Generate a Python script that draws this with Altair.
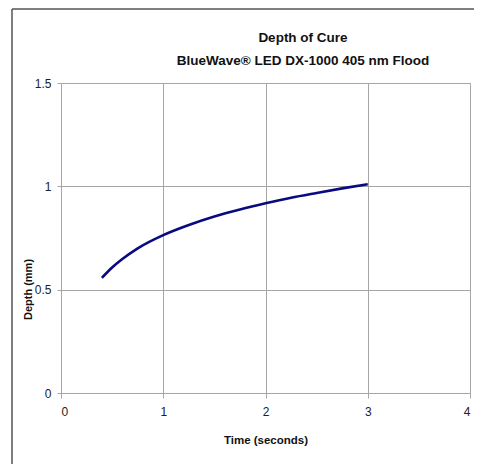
import altair as alt
import pandas as pd

# values
time_s = [0.4, 0.5, 0.6, 0.75, 1.0, 1.25, 1.5, 1.75, 2.0, 2.25, 2.5, 2.75, 3.0]
depth_mm = [0.557, 0.607, 0.648, 0.700, 0.764, 0.813, 0.854, 0.888, 0.918, 0.945, 0.968, 0.990, 1.010]

x_ticks = [0, 1, 2, 3, 4]
y_ticks = [0, 0.5, 1, 1.5]
title_lines = ["Depth of Cure", "BlueWave\u00ae LED DX-1000 405 nm Flood"]

df = pd.DataFrame({"t": time_s, "d": depth_mm})
one = pd.DataFrame({"a": [0]})

FONT = "Liberation Sans"
GRID = "#a6a6a6"

line = alt.Chart(df).mark_line(
    color="#0a0a80", strokeWidth=2.6, interpolate="monotone"
).encode(
    x=alt.X("t:Q", scale=alt.Scale(domain=[0, 4], nice=False),
            axis=alt.Axis(values=x_ticks, title="Time (seconds)", format="d",
                          grid=True, gridColor=GRID, domainColor=GRID,
                          tickColor=GRID, tickSize=5, labelPadding=8,
                          labelFont=FONT, labelFontSize=12, labelColor="#222",
                          titleFont=FONT, titleFontSize=11.5, titleFontWeight="bold",
                          titleColor="#111", titlePadding=17)),
    y=alt.Y("d:Q", scale=alt.Scale(domain=[0, 1.5], nice=False),
            axis=alt.Axis(values=y_ticks, title="Depth (mm)",
                          grid=True, gridColor=GRID, domainColor=GRID,
                          tickColor=GRID, tickSize=4, labelPadding=6,
                          labelFont=FONT, labelFontSize=12, labelColor="#222",
                          labelExpr="datum.value == 0 ? '0' : datum.value == 1 ? '1' : datum.label",
                          titleFont=FONT, titleFontSize=11, titleFontWeight="bold",
                          titleColor="#111", titleAngle=270, titleX=-33, titleY=206,
                          titleAlign="center", titleBaseline="middle")),
)

frame_left = alt.Chart(one).mark_rule(color="#555", strokeWidth=1.5).encode(
    x=alt.value(-49), y=alt.value(-74), y2=alt.value(400)
)
frame_top = alt.Chart(one).mark_rule(color="#555", strokeWidth=1.5).encode(
    x=alt.value(-49), x2=alt.value(420), y=alt.value(-74)
)

title1 = alt.Chart(one).mark_text(
    text=title_lines[0], font=FONT, fontSize=13.5, fontWeight="bold",
    color="#111", align="center", baseline="alphabetic"
).encode(x=alt.value(242), y=alt.value(-41))
title2 = alt.Chart(one).mark_text(
    text=title_lines[1], font=FONT, fontSize=13.5, fontWeight="bold",
    color="#111", align="center", baseline="alphabetic"
).encode(x=alt.value(242), y=alt.value(-18))

chart = alt.layer(frame_left, frame_top, line, title1, title2).properties(
    width=409,
    height=310,
    autosize=alt.AutoSizeParams(type="none"),
    padding={"left": 53, "top": 75, "right": 4, "bottom": 71},
).configure_view(stroke=GRID, strokeWidth=1).configure(background="white")

chart.save("out.html", embed_options={"renderer": "svg", "actions": False})
